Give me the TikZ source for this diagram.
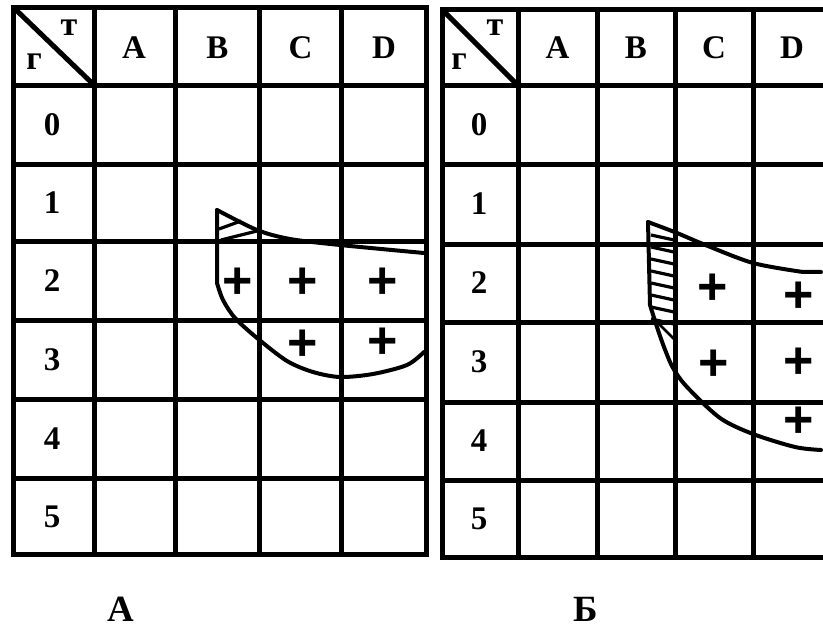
\documentclass[tikz,border=0pt]{standalone}
\usepackage{fontspec}
\setmainfont{Liberation Serif}
\newfontfamily\plusfamily{Liberation Sans}
\tikzset{
  gridline/.style={line width=5pt, line join=miter},
  curveline/.style={line width=4pt, line join=round, line cap=round},
  hatchline/.style={line width=3.2pt},
  lbl/.style={inner sep=0pt, font=\fontsize{33}{36}\selectfont\bfseries},
  small/.style={inner sep=0pt, font=\fontsize{34}{36}\selectfont\bfseries},
  caption/.style={inner sep=0pt, font=\fontsize{37}{40}\selectfont\bfseries},
  plusmark/.style={inner sep=0pt, font=\fontsize{52}{54}\selectfont\plusfamily\bfseries}
}
\begin{document}
\begin{tikzpicture}[x=1pt,y=-1pt]
\useasboundingbox (0,0) rectangle (823,628);
\fill[white] (0,0) rectangle (823,628);

% ---------- left table ----------
\draw[gridline] (13.5,7.5) rectangle (426,554.5);
\foreach \x in {94.5,175.5,259.5,341.5} \draw[gridline] (\x,7.5) -- (\x,554.5);
\foreach \y in {85.5,164.5,242,320.5,399.5,478.5} \draw[gridline] (13.5,\y) -- (426,\y);
\draw[gridline] (13.5,7.5) -- (94.5,85.5);

\node[small] (lt) at (69,28) {т};
\node[small] (lg) at (34,62) {г};
\node[lbl] (lA) at (134,48) {A};
\node[lbl] (lB) at (217.5,48) {B};
\node[lbl] (lC) at (300.5,48) {C};
\node[lbl] (lD) at (384,48) {D};
\node[lbl] (l0) at (52,125) {0};
\node[lbl] (l1) at (52,203) {1};
\node[lbl] (l2) at (52,281) {2};
\node[lbl] (l3) at (52,360) {3};
\node[lbl] (l4) at (52,439) {4};
\node[lbl] (l5) at (52,517) {5};

% left figure
\draw[curveline] plot[smooth] coordinates {(217,210) (257,230) (290,239) (340,245) (424,253)};
\draw[curveline] (217,210) -- plot[smooth] coordinates {(217,283) (223,300) (235,318) (257,338) (287,361) (313,372) (340,377) (373,374) (407,365) (424,352)};
\draw[hatchline] (219,229) -- (241,221);
\draw[hatchline] (221,240) -- (257,231);

\node[plusmark] (lp1) at (238,283) {+};
\node[plusmark] (lp2) at (303,283) {+};
\node[plusmark] (lp3) at (383,283) {+};
\node[plusmark] (lp4) at (303,345) {+};
\node[plusmark] (lp5) at (383,343) {+};

% ---------- right table ----------
\draw[gridline] (823,9.5) -- (442,9.5) -- (442,557.5) -- (823,557.5);
\foreach \x in {518,597,675,753.5} \draw[gridline] (\x,9.5) -- (\x,557.5);
\foreach \y in {85.5,164.5,244.5,322.5,402.5,480.5} \draw[gridline] (442,\y) -- (823,\y);
\draw[gridline] (442,9.5) -- (518,85.5);

\node[small] (rt) at (495,28) {т};
\node[small] (rg) at (459,62) {г};
\node[lbl] (rA) at (557.5,48) {A};
\node[lbl] (rB) at (636,48) {B};
\node[lbl] (rC) at (714,48) {C};
\node[lbl] (rD) at (792,48) {D};
\node[lbl] (r0) at (479,125) {0};
\node[lbl] (r1) at (479,204) {1};
\node[lbl] (r2) at (479,283) {2};
\node[lbl] (r3) at (479,362) {3};
\node[lbl] (r4) at (479,441) {4};
\node[lbl] (r5) at (479,519) {5};

% right figure
\draw[curveline] plot[smooth] coordinates {(648,222) (677,233) (703,244) (753,263) (803,272)} -- (821,272);
\draw[curveline] (648,222) -- plot[smooth] coordinates {(650,305) (657,327) (664,347) (673,368) (687,387) (720,418) (753,434) (795,447) (821,450)};
\foreach \y in {235,247,259,271,283,295,307,319} \draw[hatchline] (651,\y) -- (674,\y+5);
\draw[line width=2.5pt] (655,320) -- (677,342);

\node[plusmark] (rp1) at (713,289) {+};
\node[plusmark] (rp2) at (799,297) {+};
\node[plusmark] (rp3) at (714,365) {+};
\node[plusmark] (rp4) at (799,363) {+};
\node[plusmark] (rp5) at (799,422) {+};

% captions
\node[caption] (capA) at (121,609) {А};
\node[caption] (capB) at (586,609) {Б};
\end{tikzpicture}
\end{document}
